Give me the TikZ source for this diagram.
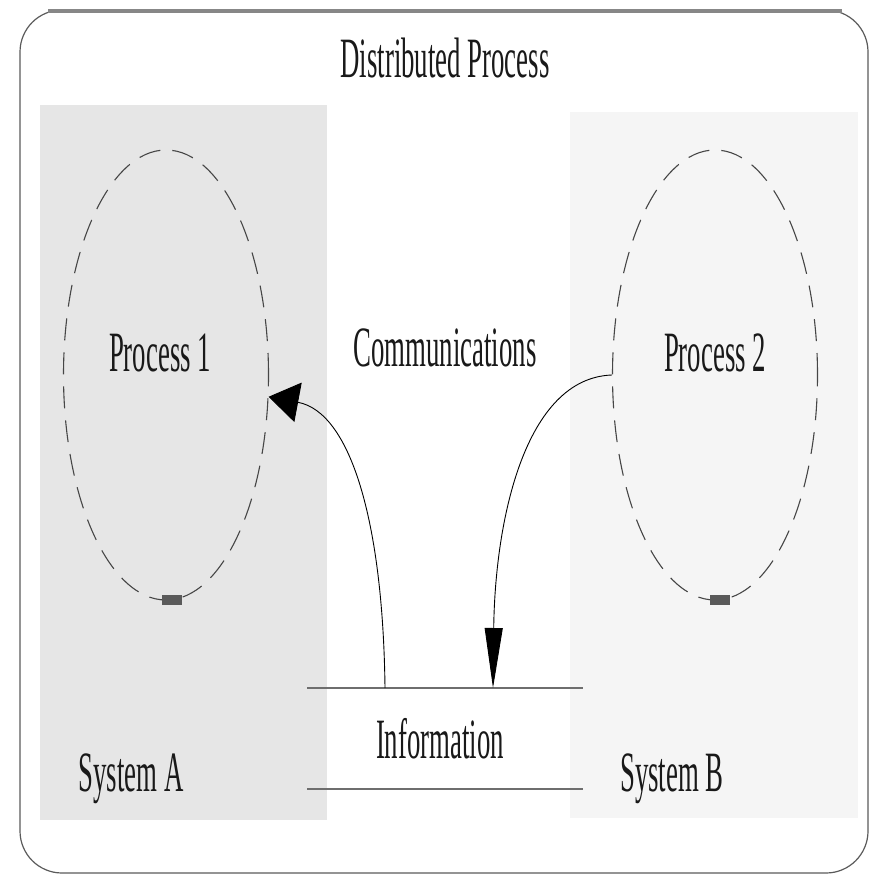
\documentclass[tikz,border=0pt]{standalone}
\usepackage{fontspec}
\newfontfamily\labelfont[FakeStretch=0.47]{Liberation Serif}
\usetikzlibrary{arrows.meta}
\usetikzlibrary{shapes.geometric}

\begin{document}
\begin{tikzpicture}[x=1pt,y=1pt,yscale=-1,
  proc/.style={ellipse,draw={rgb,255:red,70;green,70;blue,70},line width=1.1pt,dash pattern=on 22pt off 12pt,minimum width=205pt,minimum height=450pt,inner sep=0pt},
  lbl/.style={anchor=base,inner sep=0.75pt,text={rgb,255:red,25;green,25;blue,25},font=\labelfont\fontsize{57}{60}\selectfont},
  msg/.style={draw=black,line width=0.9pt},
  rule/.style={draw={rgb,255:red,110;green,110;blue,110},line width=1.6pt}]
\useasboundingbox (0,0) rectangle (875,877);

%Shape: Rounded Rect
\draw [draw={rgb,255:red,90;green,90;blue,90},line width=1.2pt,rounded corners=42pt] (20,10) rectangle (868,873);
\draw [draw={rgb,255:red,135;green,135;blue,135},line width=4pt] (48,11) -- (842,11);
%Shape: Rectangle
\fill [fill={rgb,255:red,230;green,230;blue,230}] (40,105) rectangle (327,820);
%Shape: Rectangle
\fill [fill={rgb,255:red,245;green,245;blue,245}] (570,112) rectangle (858,818);

%Shape: Ellipse
\node [proc] (proc1) at (166,375) {};
\node [proc] (proc2) at (715,375) {};
\fill [fill={rgb,255:red,90;green,90;blue,90}] (162,595) rectangle (182,605);
\fill [fill={rgb,255:red,90;green,90;blue,90}] (710,595) rectangle (730,605);

%Straight Lines
\coordinate (infoNW) at (307,688);
\coordinate (infoNE) at (583,688);
\coordinate (infoSW) at (307,789);
\coordinate (infoSE) at (583,789);
\coordinate (sendA) at (385,688);
\coordinate (recvB) at (493,688);
\draw [rule] (infoNW) -- (infoNE);
\draw [rule] (infoSW) -- (infoSE);

%Curve Lines
\draw [msg,-{Triangle[length=30pt,width=40pt]}] (sendA) .. controls (383,520) and (350,412) .. (proc1.-12);
\draw [msg,-{Triangle[length=60pt,width=18pt]}] (proc2.west) .. controls (525,378) and (495,520) .. (recvB);

% Text Node
\node [lbl] (title) at (445,78) {Distributed Process};
% Text Node
\node [lbl] (p1text) at (160,371) {Process 1};
% Text Node
\node [lbl] (p2text) at (715,371) {Process 2};
% Text Node
\node [lbl] (comm) at (445,366) {Communications};
% Text Node
\node [lbl] (info) at (440,758) {Information};
% Text Node
\node [lbl] (sysA) at (131,791) {System A};
% Text Node
\node [lbl] (sysB) at (672,791) {System B};

\end{tikzpicture}
\end{document}
